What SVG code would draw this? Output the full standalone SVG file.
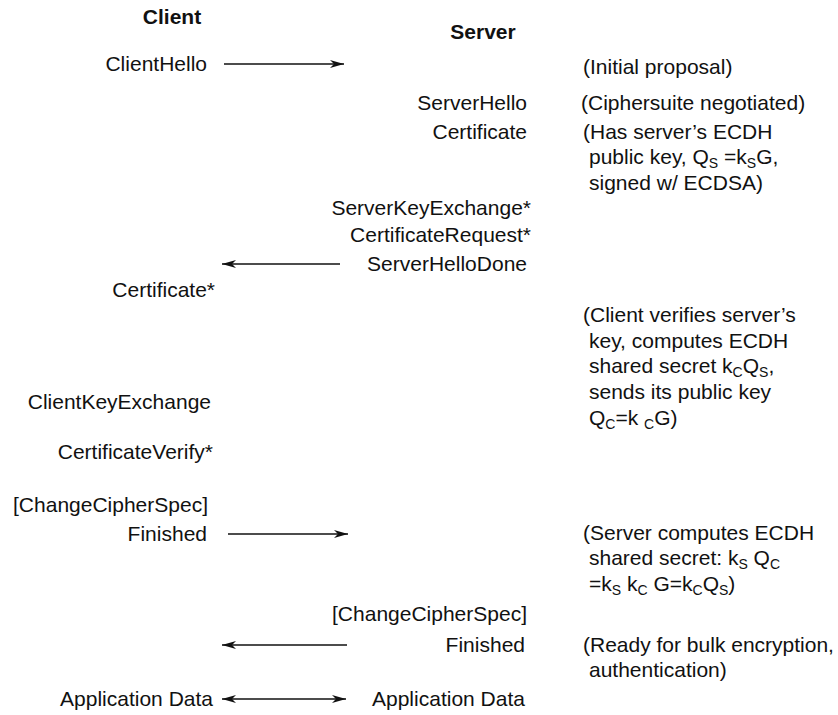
<svg xmlns="http://www.w3.org/2000/svg" width="838" height="715" viewBox="0 0 838 715">
<defs>
<style>
text{font-family:"Liberation Sans",Arial,Helvetica,sans-serif;font-size:21px;fill:#111}
.h{font-weight:bold;text-anchor:middle}
.r{text-anchor:end}
.sub{font-size:14px}
.conn{stroke:#111;stroke-width:1.5;fill:none}
</style>
<marker id="ah" viewBox="0 0 14 8" refX="14" refY="4" markerWidth="14" markerHeight="8" markerUnits="userSpaceOnUse" orient="auto-start-reverse">
<path d="M0,0 L14,4 L0,8 L4,4 z" fill="#111"/>
</marker>
</defs>
<rect width="838" height="715" fill="#fff"/>

<g id="header-client"><text class="h" x="172" y="24">Client</text></g>
<g id="header-server"><text class="h" x="483" y="39">Server</text></g>

<g id="client-hello"><text class="r" x="207" y="71">ClientHello</text></g>
<g id="note-initial"><text x="583" y="74">(Initial proposal)</text></g>

<g id="server-hello"><text class="r" x="527" y="110">ServerHello</text></g>
<g id="note-cipher"><text x="581" y="110">(Ciphersuite negotiated)</text></g>

<g id="server-certificate"><text class="r" x="527" y="139">Certificate</text></g>
<g id="note-server-key">
<text x="583" y="139">(Has server’s ECDH</text>
<text x="589" y="164">public key, Q<tspan class="sub" dy="4">S</tspan><tspan dy="-4"> =k</tspan><tspan class="sub" dy="4">S</tspan><tspan dy="-4">G,</tspan></text>
<text x="589" y="190">signed w/ ECDSA)</text>
</g>

<g id="server-key-exchange"><text class="r" x="531" y="215">ServerKeyExchange*</text></g>
<g id="certificate-request"><text class="r" x="531" y="242">CertificateRequest*</text></g>
<g id="server-hello-done"><text class="r" x="527" y="271">ServerHelloDone</text></g>

<g id="client-certificate"><text class="r" x="215" y="297">Certificate*</text></g>

<g id="note-client-verifies">
<text x="583" y="322">(Client verifies server’s</text>
<text x="589" y="348">key, computes ECDH</text>
<text x="589" y="373">shared secret k<tspan class="sub" dy="4">C</tspan><tspan dy="-4">Q</tspan><tspan class="sub" dy="4">S</tspan><tspan dy="-4">,</tspan></text>
<text x="589" y="399">sends its public key</text>
<text x="589" y="425">Q<tspan class="sub" dy="4">C</tspan><tspan dy="-4">=k </tspan><tspan class="sub" dy="4">C</tspan><tspan dy="-4">G)</tspan></text>
</g>

<g id="client-key-exchange"><text class="r" x="211" y="409">ClientKeyExchange</text></g>
<g id="certificate-verify"><text class="r" x="213" y="459">CertificateVerify*</text></g>

<g id="client-ccs"><text class="r" x="208" y="512">[ChangeCipherSpec]</text></g>
<g id="client-finished"><text class="r" x="207" y="541">Finished</text></g>

<g id="note-server-computes">
<text x="583" y="540">(Server computes ECDH</text>
<text x="589" y="565">shared secret: k<tspan class="sub" dy="4">S</tspan><tspan dy="-4"> Q</tspan><tspan class="sub" dy="4">C</tspan></text>
<text x="589" y="591">=k<tspan class="sub" dy="4">S</tspan><tspan dy="-4"> k</tspan><tspan class="sub" dy="4">C</tspan><tspan dy="-4"> G=k</tspan><tspan class="sub" dy="4">C</tspan><tspan dy="-4">Q</tspan><tspan class="sub" dy="4">S</tspan><tspan dy="-4">)</tspan></text>
</g>

<g id="server-ccs"><text class="r" x="527" y="621">[ChangeCipherSpec]</text></g>
<g id="server-finished"><text class="r" x="525" y="652">Finished</text></g>
<g id="note-ready">
<text x="583" y="652">(Ready for bulk encryption,</text>
<text x="589" y="677">authentication)</text>
</g>

<g id="client-app-data"><text class="r" x="213" y="706">Application Data</text></g>
<g id="server-app-data"><text x="372" y="706">Application Data</text></g>

<g id="connectors">
<line class="conn" x1="224" y1="64" x2="344" y2="64" marker-end="url(#ah)"/>
<line class="conn" x1="340" y1="264" x2="222" y2="264" marker-end="url(#ah)"/>
<line class="conn" x1="228" y1="534" x2="348" y2="534" marker-end="url(#ah)"/>
<line class="conn" x1="347" y1="645" x2="222" y2="645" marker-end="url(#ah)"/>
<line class="conn" x1="222" y1="699" x2="346" y2="699" marker-start="url(#ah)" marker-end="url(#ah)"/>
</g>
</svg>
